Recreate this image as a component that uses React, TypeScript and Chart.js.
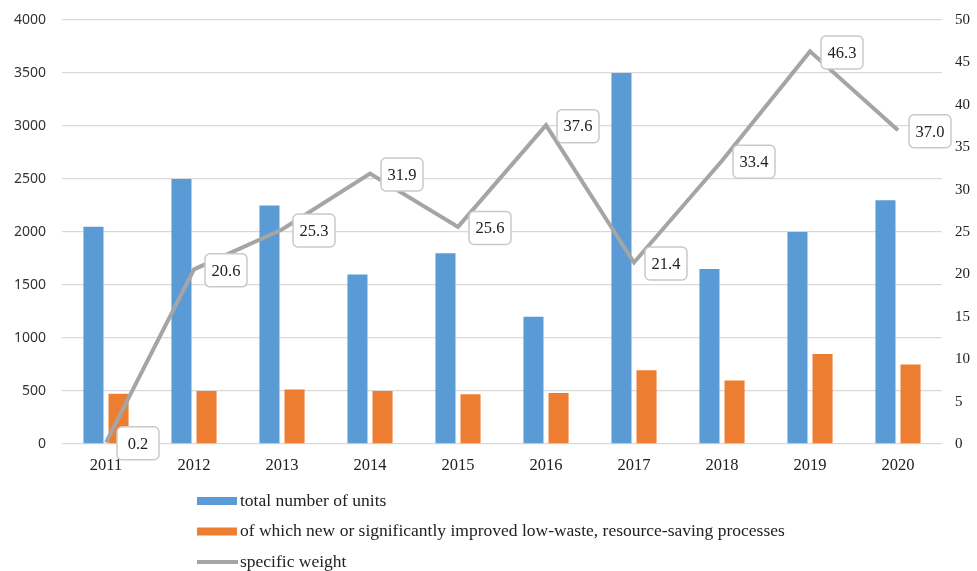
import React, { useEffect, useRef } from "react";
import { Chart, registerables } from "chart.js";

Chart.register(...registerables);

const years = ["2011", "2012", "2013", "2014", "2015", "2016", "2017", "2018", "2019", "2020"];
const totalUnits = [2050, 2500, 2250, 1600, 1800, 1200, 3500, 1650, 2000, 2300];
const newProcesses = [475, 500, 515, 500, 470, 480, 695, 600, 850, 750];
const specificWeight = [0.2, 20.6, 25.3, 31.9, 25.6, 37.6, 21.4, 33.4, 46.3, 37.0];
const seriesNames = [
  "total number of units",
  "of which new or significantly improved low-waste, resource-saving processes",
  "specific weight",
];

const BLUE = "#5b9bd5";
const ORANGE = "#ed7d31";
const GRAY = "#a5a5a5";
const SERIF = "'Liberation Serif', 'Times New Roman', serif";
const SANS = "'Noto Sans', 'Liberation Sans', sans-serif";

const labelPlugin = {
  id: "boxLabels",
  afterDatasetsDraw(chart: any) {
    const ctx = chart.ctx;
    const meta = chart.getDatasetMeta(2);
    ctx.save();
    ctx.font = `16.5px ${SERIF}`;
    ctx.textAlign = "center";
    ctx.textBaseline = "middle";
    meta.data.forEach((pt: any, i: number) => {
      const txt = specificWeight[i].toFixed(1);
      const w = 42;
      const h = 33;
      const cx = pt.x + 32;
      const cy = pt.y + 1;
      ctx.beginPath();
      ctx.roundRect(cx - w / 2, cy - h / 2, w, h, 5);
      ctx.fillStyle = "#ffffff";
      ctx.fill();
      ctx.lineWidth = 1.5;
      ctx.strokeStyle = "#c9c9c9";
      ctx.stroke();
      ctx.fillStyle = "#222";
      ctx.fillText(txt, cx, cy + 1);
    });
    ctx.restore();
  },
};

const legendPlugin = {
  id: "vertLegend",
  afterDraw(chart: any) {
    const ctx = chart.ctx;
    const left = chart.chartArea.left + 135;
    const top = chart.chartArea.bottom + 57;
    ctx.save();
    ctx.font = `17.5px ${SERIF}`;
    ctx.textBaseline = "middle";
    ctx.textAlign = "left";
    const colors = [BLUE, ORANGE, GRAY];
    seriesNames.forEach((name, i) => {
      const y = top + i * 30.5;
      if (i < 2) {
        ctx.fillStyle = colors[i];
        ctx.fillRect(left, y - 4, 40, 8);
      } else {
        ctx.strokeStyle = colors[i];
        ctx.lineWidth = 4;
        ctx.beginPath();
        ctx.moveTo(left, y);
        ctx.lineTo(left + 41, y);
        ctx.stroke();
      }
      ctx.fillStyle = "#222";
      ctx.fillText(name, left + 43, y);
    });
    ctx.restore();
  },
};

export default function App() {
  const ref = useRef<HTMLCanvasElement>(null);
  useEffect(() => {
    document.body.style.margin = "0";
    const chart = new Chart(ref.current!, {
      type: "bar",
      data: {
        labels: years,
        datasets: [
          {
            type: "bar",
            label: seriesNames[0],
            data: totalUnits,
            backgroundColor: BLUE,
            yAxisID: "y",
            order: 1,
            categoryPercentage: 0.57,
            barPercentage: 0.8,
          },
          {
            type: "bar",
            label: seriesNames[1],
            data: newProcesses,
            backgroundColor: ORANGE,
            yAxisID: "y",
            order: 1,
            categoryPercentage: 0.57,
            barPercentage: 0.8,
          },
          {
            type: "line",
            label: seriesNames[2],
            data: specificWeight,
            borderColor: GRAY,
            borderWidth: 4,
            pointRadius: 0,
            tension: 0,
            yAxisID: "y2",
            order: 0,
          } as any,
        ],
      },
      options: {
        animation: false,
        responsive: false,
        maintainAspectRatio: false,
        layout: { padding: { top: 20, left: 0, right: 0, bottom: 0 } },
        plugins: {
          legend: { display: false },
          tooltip: { enabled: false },
        },
        scales: {
          x: {
            grid: { display: false, drawTicks: false },
            border: { display: false },
            ticks: { color: "#222", font: { family: SERIF, size: 16.5 }, padding: 12 },
            afterFit: (s: any) => {
              s.height = 127;
              s.paddingLeft = 0;
              s.paddingRight = 0;
            },
          },
          y: {
            position: "left",
            min: 0,
            max: 4000,
            ticks: {
              stepSize: 500,
              color: "#333",
              font: { family: SANS, size: 14 },
              padding: 16,
              callback: (v: any) => String(v),
            },
            grid: { color: "#d9d9d9", lineWidth: 1.3, drawTicks: false },
            border: { display: false },
            afterFit: (s: any) => {
              s.width = 62;
              s.paddingTop = 0;
              s.paddingBottom = 0;
            },
          },
          y2: {
            position: "right",
            min: 0,
            max: 50,
            ticks: { stepSize: 5, color: "#222", font: { family: SERIF, size: 15 }, padding: 13 },
            grid: { display: false, drawTicks: false },
            border: { display: false },
            afterFit: (s: any) => {
              s.width = 35;
              s.paddingTop = 0;
              s.paddingBottom = 0;
            },
          },
        },
      },
      plugins: [labelPlugin, legendPlugin],
    });
    return () => chart.destroy();
  }, []);
  return (
    <div style={{ width: 977, height: 571, background: "#fff" }}>
      <canvas ref={ref} width={977} height={571} style={{ display: "block" }} />
    </div>
  );
}
